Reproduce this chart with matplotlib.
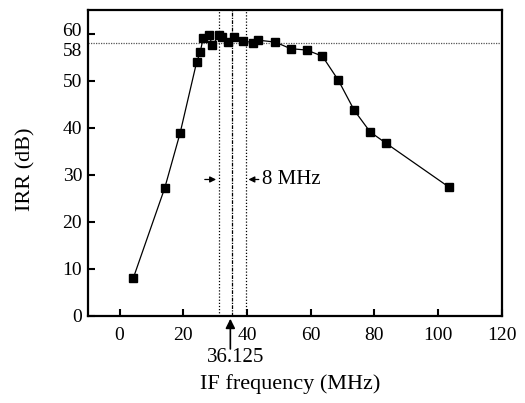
import matplotlib
matplotlib.use("Agg")
import matplotlib.pyplot as plt
import matplotlib.transforms as mtransforms

# IRR versus IF frequency
freq = [4.3, 14.2, 19.0, 24.2, 25.3, 26.3, 28.1, 29.1, 31.2, 32.2, 34.1, 35.9,
        38.9, 41.9, 43.6, 48.9, 53.7, 58.8, 63.7, 68.7, 73.7, 78.7, 83.7, 103.4]
irr = [8.0, 27.2, 38.8, 53.9, 56.0, 59.1, 59.8, 57.5, 59.6, 59.2, 58.2, 59.3,
       58.4, 58.1, 58.6, 58.2, 56.8, 56.5, 55.2, 50.1, 43.7, 39.1, 36.7, 27.4]

x_ticks = [0, 20, 40, 60, 80, 100, 120]
y_ticks = [0, 10, 20, 30, 40, 50, 60]
irr_ref = 58
if_center = 35.4
if_half_bw = 4.2

plt.rcParams["font.family"] = ["Liberation Serif", "DejaVu Serif"]

fig = plt.figure(figsize=(5.25, 4.03), dpi=100)
ax = fig.add_axes([0.167, 0.216, 0.7886, 0.759])

ax.plot(freq, irr, color="black", linewidth=0.9, marker="s", markersize=5.5,
        markerfacecolor="black", markeredgecolor="black", zorder=3)

ax.axhline(irr_ref, color="#555555", linewidth=0.9, linestyle=(0, (1, 1)))
ax.axvline(if_center - if_half_bw, color="black", linewidth=0.9, linestyle=(0, (1, 1.5)))
ax.axvline(if_center + if_half_bw, color="black", linewidth=0.9, linestyle=(0, (1, 1.5)))
ax.axvline(if_center, color="black", linewidth=0.9, linestyle=(0, (3, 1, 1, 1)))

ax.set_xlim(-10, 120)
ax.set_ylim(0, 65)
ax.set_xticks(x_ticks)
ax.set_yticks(y_ticks)
ax.tick_params(direction="in", length=5, width=1.5, labelsize=14)
ax.tick_params(axis="x", pad=8)
ax.tick_params(axis="y", pad=4)
for s in ax.spines.values():
    s.set_linewidth(1.6)

# lift the 60 label a little so 58 fits under it
top_label = ax.get_yticklabels()[-1]
top_label.set_transform(top_label.get_transform() +
                        mtransforms.ScaledTranslation(0, 3 / 72, fig.dpi_scale_trans))

trans = mtransforms.blended_transform_factory(ax.transAxes, ax.transData)
ax.text(-0.012, irr_ref - 1.7, "58", transform=trans, ha="right", va="center",
        fontsize=14)

# bandwidth arrows
ax.annotate("", xy=(if_center - if_half_bw, 29), xytext=(if_center - if_half_bw - 5.3, 29),
            arrowprops=dict(arrowstyle="-|>", color="black", lw=0.9,
                            mutation_scale=9))
ax.annotate("", xy=(if_center + if_half_bw, 29), xytext=(if_center + if_half_bw + 5.0, 29),
            arrowprops=dict(arrowstyle="-|>", color="black", lw=0.9,
                            mutation_scale=9))
ax.text(if_center + if_half_bw + 5.0, 29, "8 MHz", ha="left", va="center", fontsize=15)

# center frequency marker below the axis
ax.annotate("", xy=(if_center - 0.6, 0), xytext=(if_center - 0.6, -7.6),
            arrowprops=dict(arrowstyle="-|>", color="black", lw=1.2,
                            mutation_scale=14), annotation_clip=False)
ax.text(if_center + 1.0, -8.9, "36.125", ha="center", va="center", fontsize=15)

ax.set_xlabel("IF frequency (MHz)", fontsize=16)
ax.set_ylabel("IRR (dB)", fontsize=16)
ax.xaxis.set_label_coords(0.489, -0.19)
ax.yaxis.set_label_coords(-0.127, 0.48)

fig.savefig("out.png", dpi=100)
